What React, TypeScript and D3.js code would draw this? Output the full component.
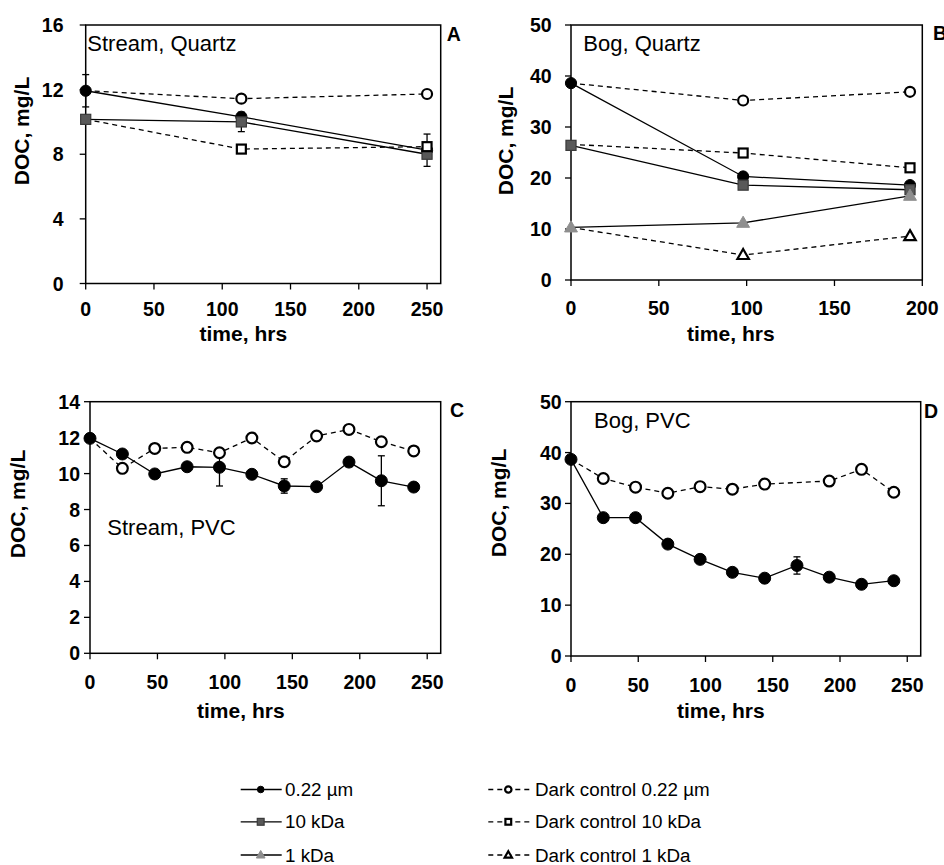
import React from 'react';
import * as d3 from 'd3';

// ---------- DATA ----------
const timesA = [0, 114, 250];
const aFilt022 = [11.93, 10.32, 8.25];
const aFilt022Err = [1.0, 0, 1.0];
const aFilt10 = [10.16, 10.0, 8.0];
const aFilt10Err = [0, 0.6, 0];
const aDark022 = [11.93, 11.44, 11.73];
const aDark10 = [10.16, 8.32, 8.47];

const timesB = [0, 98, 193];
const bFilt022 = [38.6, 20.3, 18.6];
const bFilt10 = [26.4, 18.6, 17.7];
const bFilt1 = [10.3, 11.2, 16.5];
const bDark022 = [38.6, 35.2, 36.9];
const bDark10 = [26.6, 24.9, 22.0];
const bDark1 = [10.3, 4.9, 8.6];

const timesC = [0, 24, 48, 72, 96, 120, 144, 168, 192, 216, 240];
const cFilt022 = [11.96, 11.09, 9.98, 10.38, 10.35, 9.96, 9.31, 9.27, 10.64, 9.6, 9.25];
const cFilt022Err = [0.1, 0.1, 0.1, 0.1, 1.04, 0.15, 0.4, 0.1, 0.25, 1.39, 0.1];
const cDark022 = [11.96, 10.29, 11.4, 11.46, 11.16, 11.98, 10.66, 12.09, 12.46, 11.77, 11.26];

const timesD = [0, 24, 48, 72, 96, 120, 144, 168, 192, 216, 240];
const dFilt022 = [38.66, 27.2, 27.2, 22.0, 19.0, 16.45, 15.3, 17.8, 15.5, 14.1, 14.8];
const dFilt022Err = [0.3, 0.3, 0.3, 0.3, 0.3, 0.3, 0.3, 1.7, 0.3, 0.8, 0.6];
const timesDDark = [0, 24, 48, 72, 96, 120, 144, 192, 216, 240];
const dDark022 = [38.66, 34.9, 33.2, 32.0, 33.3, 32.8, 33.8, 34.4, 36.7, 32.2];

const xTicks250 = [0, 50, 100, 150, 200, 250];
const xTicks200 = [0, 50, 100, 150, 200];
const yTicksA = [0, 4, 8, 12, 16];
const yTicks50 = [0, 10, 20, 30, 40, 50];
const yTicksC = [0, 2, 4, 6, 8, 10, 12, 14];

const legendLabels = ['0.22 µm', '10 kDa', '1 kDa'];
const legendDarkLabels = ['Dark control 0.22 µm', 'Dark control 10 kDa', 'Dark control 1 kDa'];

const xTitle = 'time, hrs';
const yTitle = 'DOC, mg/L';

// ---------- STYLES ----------
type Kind = 'filt022' | 'filt10' | 'filt1' | 'dark022' | 'dark10' | 'dark1';
const STYLE: Record<Kind, { shape: string; fill: string; stroke: string; sw: number; dashed: boolean }> = {
  filt022: { shape: 'circle', fill: '#000', stroke: '#000', sw: 1, dashed: false },
  filt10: { shape: 'square', fill: '#595959', stroke: '#3a3a3a', sw: 1.2, dashed: false },
  filt1: { shape: 'triangle', fill: '#8e8e8e', stroke: '#8e8e8e', sw: 1, dashed: false },
  dark022: { shape: 'circle', fill: '#fff', stroke: '#000', sw: 2.2, dashed: true },
  dark10: { shape: 'square', fill: '#fff', stroke: '#000', sw: 2.2, dashed: true },
  dark1: { shape: 'triangle', fill: '#fff', stroke: '#000', sw: 2.2, dashed: true },
};

type Series = { kind: Kind; x: number[]; y: number[]; err?: number[] };

type PanelCfg = {
  letter: string;
  note: string;
  left: number; right: number; top: number; bottom: number;
  xDomain: [number, number]; yDomain: [number, number];
  xTicks: number[]; yTicks: number[];
  yLabelRight: number; xLabelBase: number;
  xTitleX: number; xTitleY: number;
  yTitleX: number; yTitleY: number;
  letterX: number; letterY: number;
  noteX: number; noteY: number;
  msize: number;
  series: Series[];
};

const panels: PanelCfg[] = [
  {
    letter: 'A', note: 'Stream, Quartz',
    left: 85.7, right: 440.7, top: 25, bottom: 283.5,
    xDomain: [0, 260], yDomain: [0, 16], xTicks: xTicks250, yTicks: yTicksA,
    yLabelRight: 63.5, xLabelBase: 315.5, xTitleX: 243.3, xTitleY: 341,
    yTitleX: 29, yTitleY: 131, letterX: 446.7, letterY: 40.5, noteX: 87.3, noteY: 51,
    msize: 5.6,
    series: [
      { kind: 'filt022', x: timesA, y: aFilt022, err: aFilt022Err },
      { kind: 'filt10', x: timesA, y: aFilt10, err: aFilt10Err },
      { kind: 'dark022', x: timesA, y: aDark022 },
      { kind: 'dark10', x: timesA, y: aDark10 },
    ],
  },
  {
    letter: 'B', note: 'Bog, Quartz',
    left: 571, right: 922.3, top: 25, bottom: 280,
    xDomain: [0, 200], yDomain: [0, 50], xTicks: xTicks200, yTicks: yTicks50,
    yLabelRight: 551.7, xLabelBase: 315, xTitleX: 730.8, xTitleY: 341,
    yTitleX: 513, yTitleY: 141, letterX: 933, letterY: 40, noteX: 583.3, noteY: 51,
    msize: 5.6,
    series: [
      { kind: 'filt022', x: timesB, y: bFilt022 },
      { kind: 'filt10', x: timesB, y: bFilt10 },
      { kind: 'filt1', x: timesB, y: bFilt1 },
      { kind: 'dark022', x: timesB, y: bDark022 },
      { kind: 'dark10', x: timesB, y: bDark10 },
      { kind: 'dark1', x: timesB, y: bDark1 },
    ],
  },
  {
    letter: 'C', note: 'Stream, PVC',
    left: 90, right: 440.7, top: 401.7, bottom: 653.3,
    xDomain: [0, 260], yDomain: [0, 14], xTicks: xTicks250, yTicks: yTicksC,
    yLabelRight: 80, xLabelBase: 688.5, xTitleX: 240.8, xTitleY: 718,
    yTitleX: 25, yTitleY: 504, letterX: 450, letterY: 417, noteX: 107.3, noteY: 535,
    msize: 6,
    series: [
      { kind: 'filt022', x: timesC, y: cFilt022, err: cFilt022Err },
      { kind: 'dark022', x: timesC, y: cDark022 },
    ],
  },
  {
    letter: 'D', note: 'Bog, PVC',
    left: 571, right: 920.7, top: 401.7, bottom: 656,
    xDomain: [0, 260], yDomain: [0, 50], xTicks: xTicks250, yTicks: yTicks50,
    yLabelRight: 561.7, xLabelBase: 691.5, xTitleX: 720.8, xTitleY: 718,
    yTitleX: 506, yTitleY: 503, letterX: 924, letterY: 418, noteX: 594, noteY: 428.3,
    msize: 6,
    series: [
      { kind: 'filt022', x: timesD, y: dFilt022, err: dFilt022Err },
      { kind: 'dark022', x: timesDDark, y: dDark022 },
    ],
  },
];

const FONT = '"Liberation Sans", Arial, Helvetica, sans-serif';

function Marker({ kind, cx, cy, r }: { kind: Kind; cx: number; cy: number; r: number }) {
  const st = STYLE[kind];
  if (st.shape === 'circle') {
    return <circle cx={cx} cy={cy} r={r} fill={st.fill} stroke={st.stroke} strokeWidth={st.sw} />;
  }
  if (st.shape === 'square') {
    const s = r * 1.8;
    return <rect x={cx - s / 2} y={cy - s / 2} width={s} height={s} fill={st.fill} stroke={st.stroke} strokeWidth={st.sw} />;
  }
  const side = r * 2.3;
  const h = side * Math.sqrt(3) / 2;
  const pts = `${cx},${cy - h * 0.6} ${cx + side / 2},${cy + h * 0.4} ${cx - side / 2},${cy + h * 0.4}`;
  return <polygon points={pts} fill={st.fill} stroke={st.stroke} strokeWidth={st.sw} strokeLinejoin="miter" />;
}

function Panel({ p }: { p: PanelCfg }) {
  const x = d3.scaleLinear().domain(p.xDomain).range([p.left, p.right]);
  const y = d3.scaleLinear().domain(p.yDomain).range([p.bottom, p.top]);
  const line = d3.line<[number, number]>().x((d) => x(d[0])).y((d) => y(d[1]));
  const filled = p.series.filter((s) => !STYLE[s.kind].dashed);
  const dark = p.series.filter((s) => STYLE[s.kind].dashed);
  const pts = (s: Series) => s.x.map((t, i) => [t, s.y[i]] as [number, number]);

  return (
    <g>
      <rect x={p.left} y={p.top} width={p.right - p.left} height={p.bottom - p.top} fill="none" stroke="#000" strokeWidth={1.5} />
      {p.yTicks.map((t) => (
        <g key={'y' + t}>
          <line x1={p.left - 6} x2={p.left} y1={y(t)} y2={y(t)} stroke="#000" strokeWidth={1.3} />
          <text x={p.yLabelRight} y={y(t)} dy="0.36em" textAnchor="end" fontFamily={FONT} fontWeight="bold" fontSize={19.5}>{t}</text>
        </g>
      ))}
      {p.xTicks.map((t) => (
        <g key={'x' + t}>
          <line x1={x(t)} x2={x(t)} y1={p.bottom} y2={p.bottom + 6} stroke="#000" strokeWidth={1.3} />
          <text x={x(t)} y={p.xLabelBase} textAnchor="middle" fontFamily={FONT} fontWeight="bold" fontSize={19.5}>{t}</text>
        </g>
      ))}
      <text x={p.xTitleX} y={p.xTitleY} textAnchor="middle" fontFamily={FONT} fontWeight="bold" fontSize={21}>{xTitle}</text>
      <text transform={`translate(${p.yTitleX},${p.yTitleY}) rotate(-90)`} textAnchor="middle" fontFamily={FONT} fontWeight="bold" fontSize={21}>{yTitle}</text>
      <text x={p.letterX} y={p.letterY} fontFamily={FONT} fontWeight="bold" fontSize={19.5}>{p.letter}</text>
      <text x={p.noteX} y={p.noteY} fontFamily={FONT} fontSize={22}>{p.note}</text>

      {p.series.filter((s) => s.err).map((s) =>
        s.x.map((t, i) => {
          const e = s.err![i];
          if (!e) return null;
          const cx = x(t);
          return (
            <g key={s.kind + 'e' + i} stroke="#000" strokeWidth={1.3}>
              <line x1={cx} x2={cx} y1={y(s.y[i] - e)} y2={y(s.y[i] + e)} />
              <line x1={cx - 3.5} x2={cx + 3.5} y1={y(s.y[i] - e)} y2={y(s.y[i] - e)} />
              <line x1={cx - 3.5} x2={cx + 3.5} y1={y(s.y[i] + e)} y2={y(s.y[i] + e)} />
            </g>
          );
        })
      )}
      {filled.map((s) => (
        <path key={s.kind + 'l'} d={line(pts(s)) || ''} fill="none" stroke="#000" strokeWidth={1.3} />
      ))}
      {dark.map((s) => (
        <path key={s.kind + 'l'} d={line(pts(s)) || ''} fill="none" stroke="#000" strokeWidth={1.3} strokeDasharray="5,4" />
      ))}
      {filled.map((s) =>
        s.x.map((t, i) => <Marker key={s.kind + 'm' + i} kind={s.kind} cx={x(t)} cy={y(s.y[i])} r={p.msize} />)
      )}
      {dark.map((s) =>
        s.x.map((t, i) => (i === 0 ? null : <Marker key={s.kind + 'm' + i} kind={s.kind} cx={x(t)} cy={y(s.y[i])} r={p.msize - 0.6} />))
      )}
    </g>
  );
}

function Legend() {
  const rowY = [789.5, 821.8, 855];
  const filledKinds: Kind[] = ['filt022', 'filt10', 'filt1'];
  const darkKinds: Kind[] = ['dark022', 'dark10', 'dark1'];
  return (
    <g fontFamily={FONT} fontSize={18.8}>
      {legendLabels.map((lab, i) => (
        <g key={'lf' + i}>
          <line x1={240.7} x2={281.7} y1={rowY[i]} y2={rowY[i]} stroke="#000" strokeWidth={1.3} />
          <Marker kind={filledKinds[i]} cx={260.7} cy={rowY[i]} r={i === 0 ? 3.3 : 3.8} />
          <text x={285} y={rowY[i] + 6.5}>{lab}</text>
        </g>
      ))}
      {legendDarkLabels.map((lab, i) => (
        <g key={'ld' + i}>
          <line x1={488.3} x2={531.7} y1={rowY[i]} y2={rowY[i]} stroke="#000" strokeWidth={1.3} strokeDasharray="5,4" />
          <Marker kind={darkKinds[i]} cx={508.3} cy={rowY[i]} r={3.2} />
          <text x={535} y={rowY[i] + 6.5}>{lab}</text>
        </g>
      ))}
    </g>
  );
}

export default function App() {
  return (
    <svg width={944} height={865} style={{ position: 'absolute', left: 0, top: 0, background: '#fff' }}>
      <rect x={0} y={0} width={944} height={865} fill="#fff" />
      {panels.map((p) => (
        <Panel key={p.letter} p={p} />
      ))}
      <Legend />
    </svg>
  );
}
